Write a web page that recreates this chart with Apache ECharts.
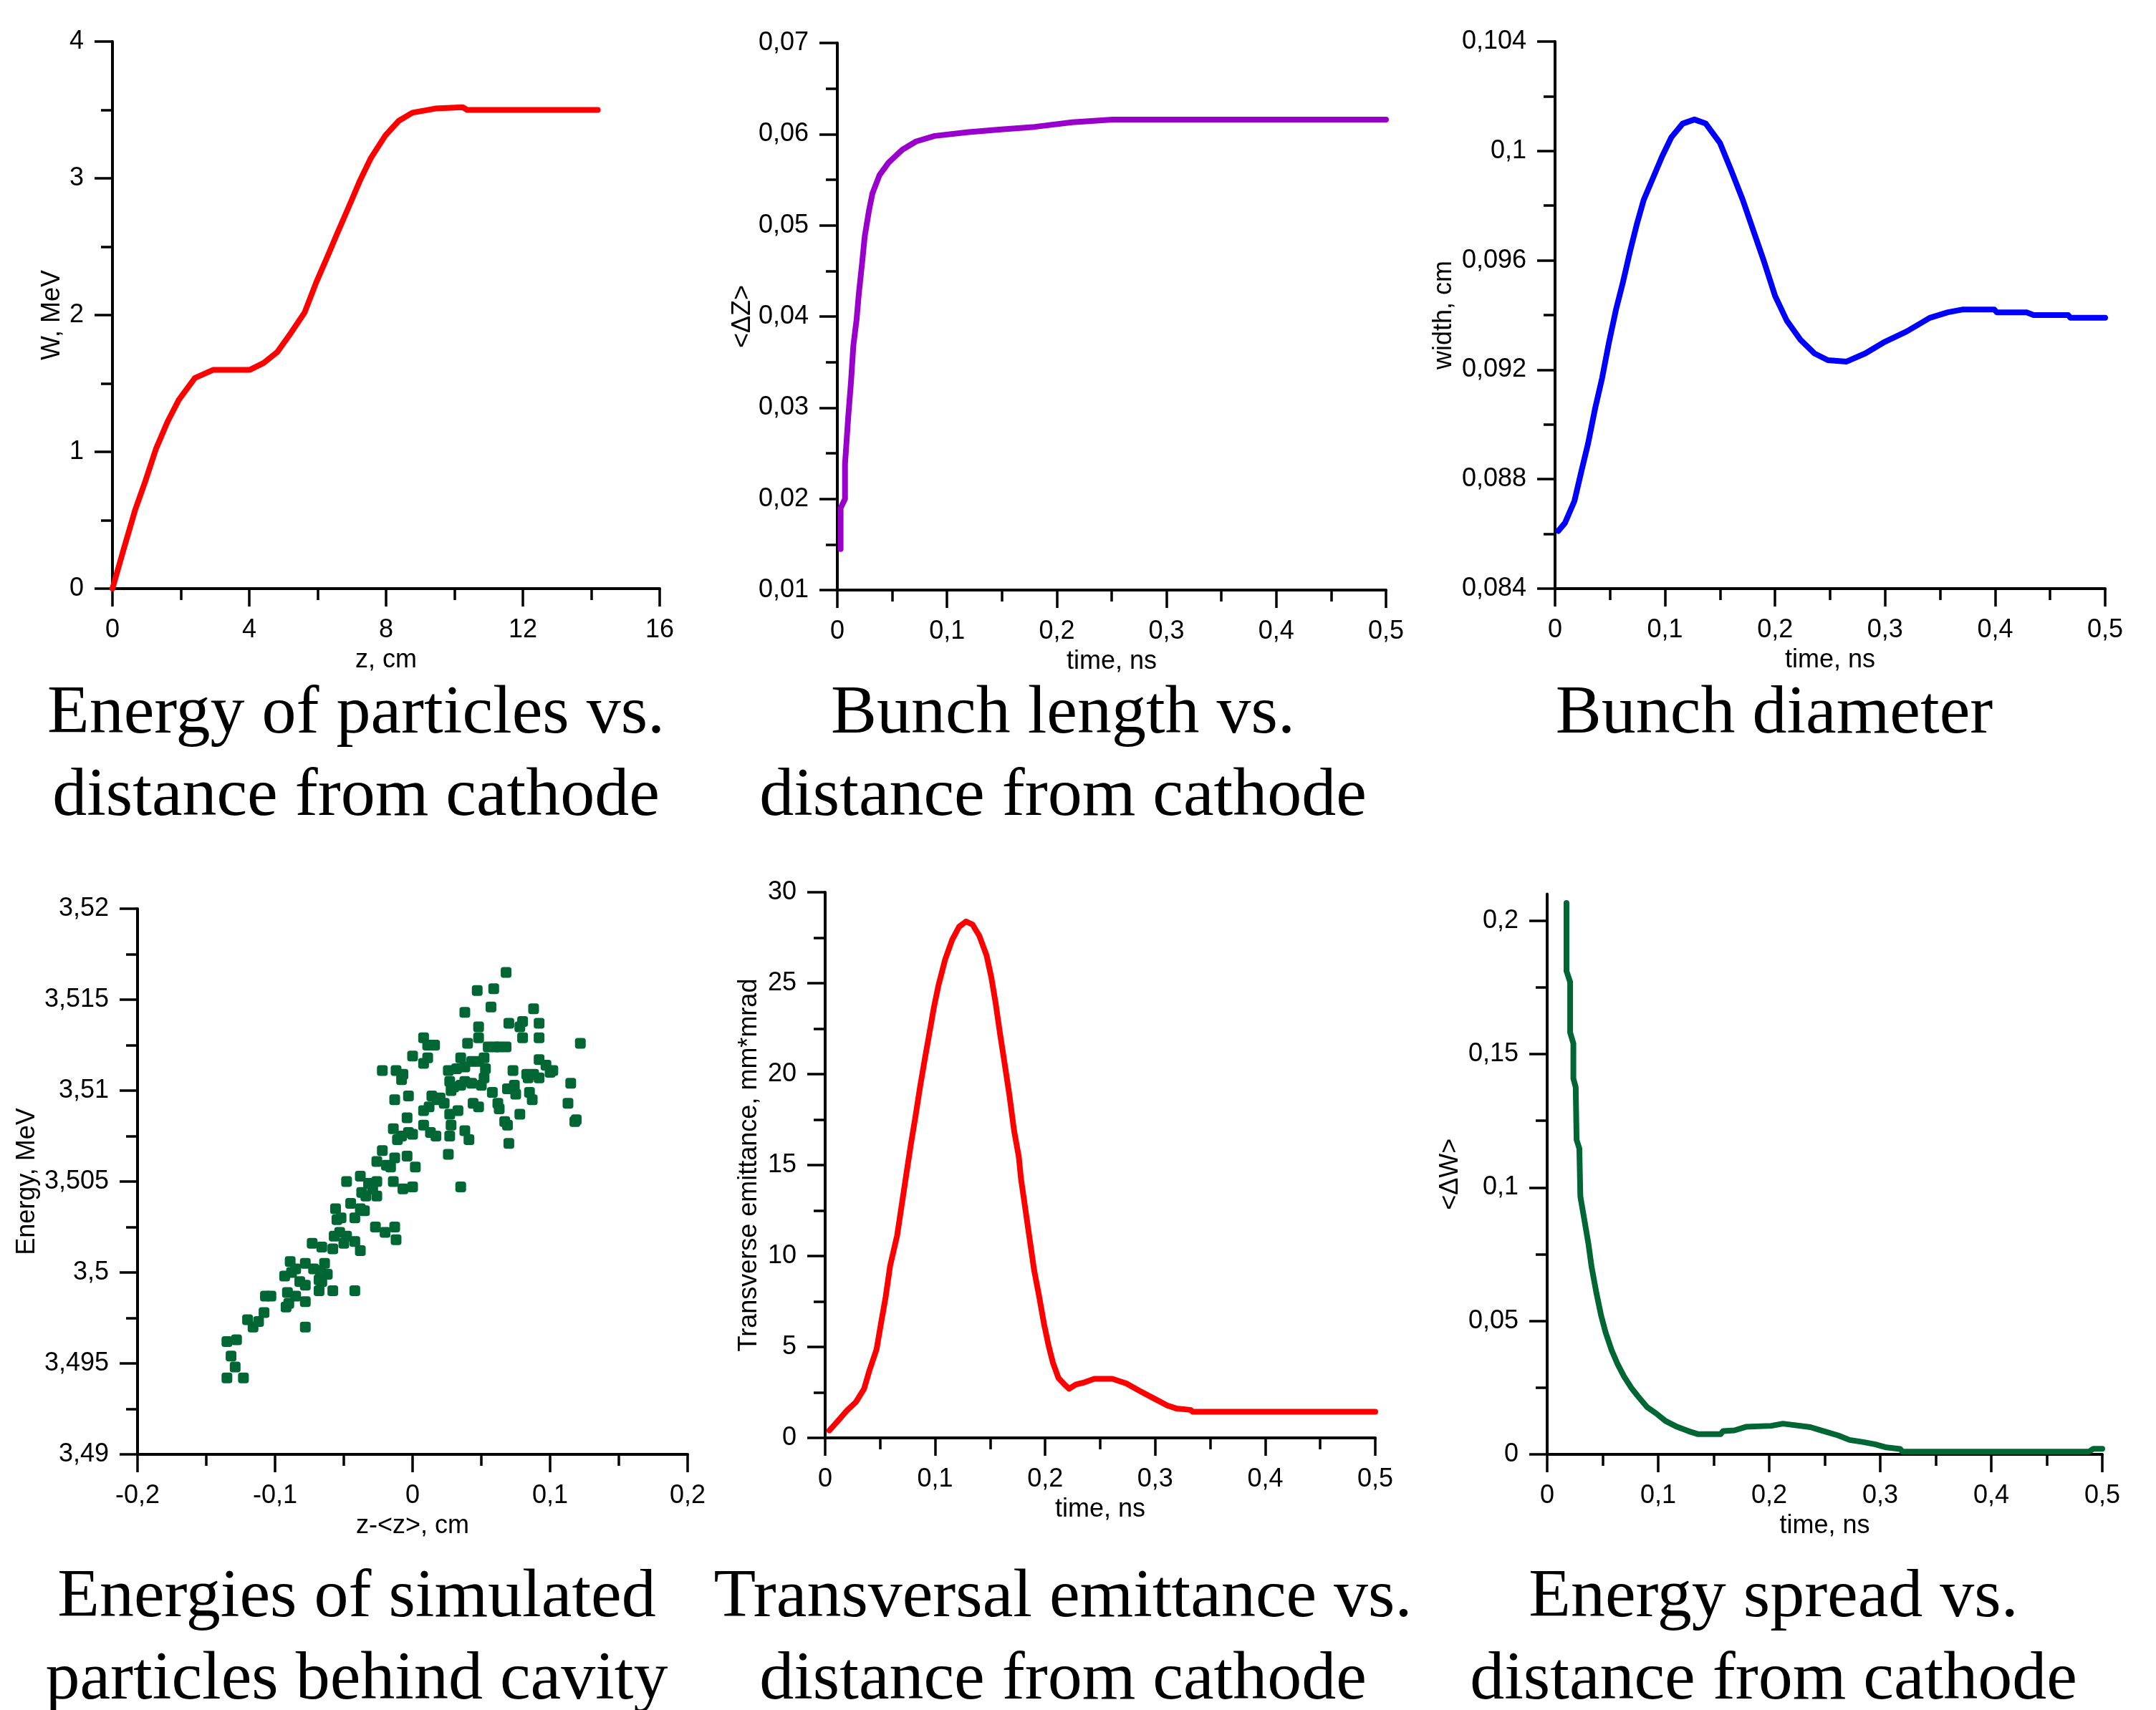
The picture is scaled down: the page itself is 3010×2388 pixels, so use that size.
<!DOCTYPE html>
<html>
<head>
<meta charset="utf-8">
<script src="https://cdn.jsdelivr.net/npm/echarts@6/dist/echarts.min.js"></script>
<style>
  html, body { margin: 0; padding: 0; background: #fff; }
  #main { width: 3010px; height: 2388px; }
</style>
</head>
<body>
<div id="main"></div>
<script>
// energy of particles vs distance from cathode
var energyZ = [0, 0.33, 0.67, 0.94, 1.27, 1.61, 1.94, 2.41, 2.95, 4.02, 4.42, 4.82, 5.22, 5.62, 5.96, 6.29, 6.56, 6.89, 7.23, 7.56, 7.97, 8.37, 8.77, 9.44, 10.24, 10.37, 14.19]
var energyW = [0, 0.29, 0.58, 0.77, 1.02, 1.22, 1.38, 1.54, 1.60, 1.60, 1.65, 1.73, 1.87, 2.02, 2.24, 2.43, 2.59, 2.78, 2.98, 3.15, 3.31, 3.42, 3.48, 3.51, 3.52, 3.50, 3.50]

// bunch length
var lengthT = [0.003, 0.003, 0.007, 0.007, 0.010, 0.0125, 0.0146, 0.0175, 0.0196, 0.0226, 0.025, 0.0288, 0.032, 0.0384, 0.0468, 0.0593, 0.0718, 0.0886, 0.118, 0.147, 0.180, 0.214, 0.251, 0.5]
var lengthDZ = [0.0145, 0.019, 0.020, 0.0238, 0.0291, 0.0329, 0.0368, 0.0396, 0.0425, 0.0459, 0.0488, 0.0516, 0.0535, 0.0555, 0.0569, 0.0583, 0.0592, 0.0598, 0.0602, 0.0605, 0.0608, 0.0613, 0.0616, 0.0616]

// bunch diameter
var widthT = [0.003, 0.009, 0.0176, 0.024, 0.030, 0.0365, 0.0428, 0.049, 0.0554, 0.0617, 0.068, 0.0742, 0.0805, 0.0889, 0.0973, 0.1057, 0.116, 0.1267, 0.137, 0.1498, 0.160, 0.1707, 0.181, 0.1896, 0.200, 0.2106, 0.223, 0.2357, 0.248, 0.265, 0.282, 0.2987, 0.3196, 0.3406, 0.357, 0.370, 0.3993, 0.4015, 0.4287, 0.435, 0.4664, 0.4685, 0.5]
var widthCm = [0.08611, 0.0864, 0.0872, 0.0883, 0.0893, 0.0906, 0.0917, 0.0930, 0.0942, 0.0952, 0.0963, 0.0973, 0.0982, 0.0990, 0.0998, 0.1005, 0.1010, 0.10115, 0.1010, 0.1003, 0.0993, 0.0982, 0.0970, 0.0960, 0.0947, 0.0938, 0.0931, 0.0926, 0.09235, 0.0923, 0.0926, 0.0930, 0.0934, 0.0939, 0.0941, 0.0942, 0.0942, 0.0941, 0.0941, 0.0940, 0.0940, 0.0939, 0.0939]

// simulated particles behind cavity
var scatterZ = [-0.135, -0.128, -0.132, -0.129, -0.135, -0.123, -0.120, -0.116, -0.112, -0.108, -0.107, -0.103, -0.092, -0.090, -0.091, -0.093, -0.088, -0.089, -0.085, -0.082,
  -0.078, -0.078, -0.078, -0.078, -0.072, -0.068, -0.066, -0.064, -0.062, -0.058, -0.067, -0.073, -0.066, -0.058, -0.057, -0.053, -0.050, -0.055, -0.052, -0.056,
  -0.048, -0.045, -0.042, -0.038, -0.042, -0.038, -0.038, -0.037, -0.034, -0.032, -0.035, -0.042, -0.026, -0.022, -0.026, -0.026, -0.027, -0.020, -0.019, -0.014,
  -0.013, -0.012, -0.016, -0.013, -0.007, 0.000, 0.002, -0.004, -0.003, -0.008, -0.014, -0.011, -0.004, 0.000, -0.013, -0.008, -0.012, -0.007, -0.003, 0.000,
  -0.022, 0.008, 0.011, 0.016, 0.008, 0.011, 0.008, 0.012, 0.008, 0.013, 0.017, 0.020, 0.023, 0.026, 0.027, 0.028, 0.030, 0.027, 0.028, 0.026,
  0.027, 0.033, 0.035, 0.035, 0.038, 0.035, 0.038, 0.041, 0.038, 0.040, 0.038, 0.043, 0.043, 0.044, 0.047, 0.048, 0.048, 0.048, 0.050, 0.048,
  0.052, 0.053, 0.055, 0.058, 0.060, 0.057, 0.059, 0.063, 0.063, 0.068, 0.070, 0.068, 0.067, 0.069, 0.070, 0.069, 0.073, 0.074, 0.075, 0.078,
  0.078, 0.080, 0.080, 0.083, 0.084, 0.085, 0.087, 0.088, 0.088, 0.092, 0.092, 0.092, 0.092, 0.097, 0.100, 0.102, 0.113, 0.115, 0.118, 0.119,
  0.122, 0.014, 0.018, 0.032, 0.052, 0.062, -0.029, -0.048, -0.085, -0.068]
var scatterE = [3.4962, 3.4963, 3.4954, 3.4948, 3.4942, 3.4942, 3.4974, 3.4970, 3.4973, 3.4978, 3.4987, 3.4987, 3.4981, 3.4983, 3.4989, 3.4998, 3.5000, 3.5006, 3.5002, 3.4995,
  3.4993, 3.4984, 3.4970, 3.5005, 3.5002, 3.4990, 3.4995, 3.5005, 3.4999, 3.4990, 3.5001, 3.5016, 3.5014, 3.5013, 3.5020, 3.5022, 3.5016, 3.5029, 3.5030, 3.5035,
  3.5050, 3.5038, 3.5030, 3.5035, 3.5017, 3.5012, 3.5053, 3.5044, 3.5042, 3.5049, 3.5034, 3.4990, 3.5061, 3.5067, 3.5050, 3.5042, 3.5025, 3.5022, 3.5059, 3.5050,
  3.5025, 3.5018, 3.5058, 3.5063, 3.5046, 3.5047, 3.5058, 3.5064, 3.5077, 3.5075, 3.5079, 3.5073, 3.5085, 3.5076, 3.5095, 3.5106, 3.5111, 3.5109, 3.5097, 3.5119,
  3.5111, 3.5129, 3.5125, 3.5125, 3.5115, 3.5118, 3.5089, 3.5091, 3.5081, 3.5077, 3.5075, 3.5096, 3.5093, 3.5111, 3.5105, 3.5100, 3.5102, 3.5087, 3.5081, 3.5065,
  3.5075, 3.5089, 3.5103, 3.5118, 3.5113, 3.5047, 3.5078, 3.5073, 3.5105, 3.5126, 3.5143, 3.5116, 3.5104, 3.5093, 3.5155, 3.5129, 3.5135, 3.5116, 3.5103, 3.5091,
  3.5107, 3.5112, 3.5124, 3.5099, 3.5124, 3.5146, 3.5156, 3.5124, 3.5090, 3.5165, 3.5137, 3.5124, 3.5083, 3.5081, 3.5071, 3.5101, 3.5111, 3.5103, 3.5098, 3.5087,
  3.5135, 3.5129, 3.5138, 3.5109, 3.5107, 3.5099, 3.5095, 3.5145, 3.5109, 3.5107, 3.5137, 3.5129, 3.5117, 3.5114, 3.5110, 3.5111, 3.5093, 3.5104, 3.5083, 3.5084,
  3.5126, 3.5097, 3.5095, 3.5112, 3.5118, 3.5093, 3.5046, 3.5020, 3.4987, 3.4996]

// transverse emittance
var emitT = [0.0038, 0.011, 0.0196, 0.028, 0.0354, 0.040, 0.0467, 0.0508, 0.055, 0.059, 0.0654, 0.0696, 0.0738, 0.078, 0.082, 0.0863, 0.0904, 0.0946, 0.0988, 0.1029,
  0.109, 0.1154, 0.1217, 0.128, 0.134, 0.140, 0.1467, 0.151, 0.155, 0.159, 0.1633, 0.1675, 0.1717, 0.176, 0.178, 0.182, 0.186, 0.190, 0.1946, 0.1988,
  0.203, 0.207, 0.212, 0.2175, 0.2217, 0.228, 0.236, 0.2446, 0.261, 0.2738, 0.286, 0.2988, 0.311, 0.3196, 0.332, 0.334, 0.5]
var emitV = [0.41, 0.89, 1.49, 1.97, 2.70, 3.66, 4.86, 6.31, 7.75, 9.44, 11.12, 12.81, 14.50, 16.18, 17.63, 19.31, 20.76, 22.20, 23.65, 24.85,
  26.29, 27.38, 28.10, 28.39, 28.22, 27.62, 26.53, 25.33, 23.89, 22.20, 20.52, 18.83, 16.90, 15.46, 14.25, 12.57, 10.88, 9.20, 7.75, 6.31,
  5.10, 4.14, 3.30, 2.94, 2.70, 2.94, 3.06, 3.25, 3.25, 2.99, 2.58, 2.17, 1.78, 1.61, 1.54, 1.44, 1.44]

// energy spread
var spreadT = [0.0174, 0.0174, 0.0207, 0.0207, 0.0236, 0.0236, 0.0257, 0.0265, 0.029, 0.0299, 0.034, 0.0373, 0.040, 0.0444, 0.0485, 0.0527, 0.058, 0.063, 0.0692, 0.0755,
  0.0817, 0.090, 0.0983, 0.1066, 0.117, 0.1273, 0.1356, 0.1563, 0.1584, 0.1687, 0.179, 0.2019, 0.2123, 0.2371, 0.2475, 0.262, 0.2724, 0.2848, 0.2952, 0.3056,
  0.318, 0.32, 0.488, 0.492, 0.5]
var spreadW = [0.2066, 0.1811, 0.177, 0.1581, 0.154, 0.1409, 0.1376, 0.1179, 0.1146, 0.0966, 0.0867, 0.0785, 0.0703, 0.0604, 0.0522, 0.0456, 0.0391, 0.0342, 0.0292, 0.0251,
  0.0218, 0.0177, 0.0153, 0.0125, 0.0103, 0.0087, 0.0076, 0.0076, 0.0087, 0.009, 0.0103, 0.0107, 0.0115, 0.0102, 0.0089, 0.0071, 0.0054, 0.0046, 0.0038, 0.0026,
  0.002, 0.001, 0.001, 0.0021, 0.0021]

var captions = [
  ['Energy of particles vs.', 'distance from cathode'],
  ['Bunch length vs.', 'distance from cathode'],
  ['Bunch diameter'],
  ['Energies of simulated', 'particles behind cavity'],
  ['Transversal emittance vs.', 'distance from cathode'],
  ['Energy spread vs.', 'distance from cathode']
]

var chart = echarts.init(document.getElementById('main'))

function pairs (xs, ys) {
  return xs.map(function (x, i) { return [x, ys[i]] })
}
function fmt (v) {
  return String(parseFloat(v.toFixed(6))).replace('.', ',')
}
var FONT = 'Liberation Sans'
var txt = { fontFamily: FONT, fontSize: 36, color: '#000' }

// one axis in the style of the original plots: outward ticks, no grid lines
function axis (grid, min, max, interval, name, gap, extra) {
  var a = {
    type: 'value', gridIndex: grid, min: min, max: max, interval: interval,
    name: name, nameLocation: 'middle', nameGap: gap, nameTextStyle: txt,
    axisLine: { show: true, onZero: false, lineStyle: { color: '#000', width: 4 } },
    axisTick: { show: true, inside: false, length: 25, lineStyle: { color: '#000', width: 3.5 } },
    minorTick: { show: true, splitNumber: 2, length: 16, lineStyle: { color: '#000', width: 3.5 } },
    axisLabel: Object.assign({ margin: 40, formatter: fmt }, txt),
    splitLine: { show: false },
    minorSplitLine: { show: false }
  }
  return Object.assign(a, extra || {})
}

var grids = [
  { left: 157, top: 58, width: 764, height: 764 },
  { left: 1169, top: 60, width: 766, height: 764 },
  { left: 2171, top: 58, width: 768, height: 764 },
  { left: 192, top: 1269, width: 768, height: 762 },
  { left: 1152, top: 1246, width: 768, height: 762 },
  { left: 2160, top: 1248.4, width: 775, height: 782.6 },
  // same panel as the one above, only 0..0.2 of it, carries the ticks and labels
  { left: 2160, top: 1285.7, width: 775, height: 745.3 }
].map(function (g) { return Object.assign({ outerBoundsMode: 'none', containLabel: false }, g) })

var xAxes = [
  axis(0, 0, 16, 4, 'z, cm', 82),
  axis(1, 0, 0.5, 0.1, 'time, ns', 82),
  axis(2, 0, 0.5, 0.1, 'time, ns', 82),
  axis(3, -0.2, 0.2, 0.1, 'z-<z>, cm', 82),
  axis(4, 0, 0.5, 0.1, 'time, ns', 82),
  axis(5, 0, 0.5, 0.1, 'time, ns', 82),
  { type: 'value', gridIndex: 6, min: 0, max: 0.5, show: false }
]

var yAxes = [
  axis(0, 0, 4, 1, 'W, MeV', 66),
  axis(1, 0.01, 0.07, 0.01, '<ΔZ>', 114),
  axis(2, 0.084, 0.104, 0.004, 'width, cm', 137),
  axis(3, 3.49, 3.52, 0.005, 'Energy, MeV', 136),
  axis(4, 0, 30, 5, 'Transverse emittance, mm*mrad', 88),
  axis(5, 0, 0.21, 0.21, '<ΔW>', 117, {
    axisTick: { show: false },
    axisLabel: { show: false },
    minorTick: { show: false }
  }),
  axis(6, 0, 0.2, 0.05, '', 0, { axisLine: { show: false } })
]
yAxes.forEach(function (a) { a.position = 'left' })

function line (i, xs, ys, color) {
  return {
    type: 'line', xAxisIndex: i, yAxisIndex: i, data: pairs(xs, ys),
    showSymbol: false, symbol: 'none', smooth: false,
    lineStyle: { color: color, width: 8, cap: 'round', join: 'round' }, itemStyle: { color: color }
  }
}

var series = [
  line(0, energyZ, energyW, '#ff0000'),
  line(1, lengthT, lengthDZ, '#9900cc'),
  line(2, widthT, widthCm, '#0000ff'),
  {
    type: 'scatter', xAxisIndex: 3, yAxisIndex: 3, data: pairs(scatterZ, scatterE),
    symbol: 'roundRect', symbolSize: 15, itemStyle: { color: '#006633', opacity: 1 }
  },
  line(4, emitT, emitV, '#ff0000'),
  line(5, spreadT, spreadW, '#006633')
]

// captions under each panel, two lines of large serif text
var capX = [497, 1484, 2477, 498, 1484, 2476]
var capY = [998, 998, 998, 2232, 2232, 2232]
var graphic = []
captions.forEach(function (lines, i) {
  lines.forEach(function (t, k) {
    graphic.push({
      type: 'text', x: capX[i], y: capY[i] + k * 115,
      style: { text: t, font: '96px "Liberation Serif"', fill: '#000', align: 'center', verticalAlign: 'middle' }
    })
  })
})

chart.setOption({
  backgroundColor: '#fff',
  animation: false,
  grid: grids,
  xAxis: xAxes,
  yAxis: yAxes,
  series: series,
  graphic: graphic
})
</script>
</body>
</html>
